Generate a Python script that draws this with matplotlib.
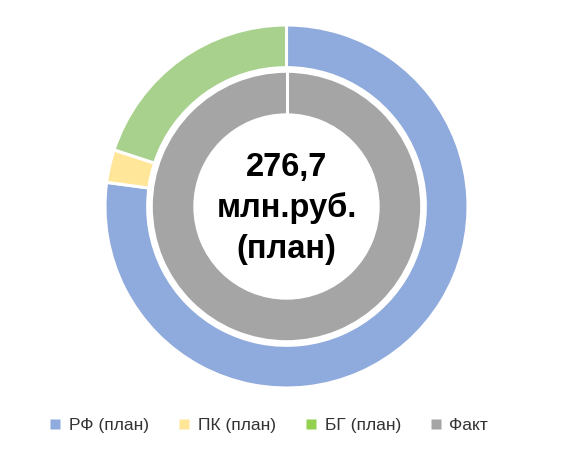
import matplotlib
matplotlib.use('Agg')
import matplotlib.pyplot as plt
from matplotlib.lines import Line2D

plt.rcParams['font.family'] = ['Liberation Sans', 'DejaVu Sans']

# данные (млн.руб.)
plan_labels = ['РФ (план)', 'ПК (план)', 'БГ (план)']
plan_values = [213.4, 8.1, 55.2]
plan_colors = ['#8faadc', '#ffe699', '#a9d18e']
fact_label = 'Факт'
fact_values = [276.7]
fact_color = '#a5a5a5'
legend_colors = ['#8faadc', '#ffe699', '#92d050', '#a5a5a5']
center_text = '276,7\nмлн.руб.\n(план)'

W, H = 568, 451
fig = plt.figure(figsize=(W / 100, H / 100), dpi=100)
cx, cy, R = 286.5, 206.5, 181.5
ax = fig.add_axes([(cx - R) / W, (H - cy - R) / H, 2 * R / W, 2 * R / H])

# внешнее кольцо - план
ax.pie(plan_values, colors=plan_colors, radius=1.0, startangle=90, counterclock=False,
       wedgeprops=dict(width=0.235, edgecolor='white', linewidth=2.2))
# внутреннее кольцо - факт
ax.pie(fact_values, colors=[fact_color], radius=0.745, startangle=90, counterclock=False,
       wedgeprops=dict(width=0.24, edgecolor='white', linewidth=2.2))
# разделитель у начала кольца "Факт"
ax.plot([0, 0], [0.5, 0.75], color='white', lw=2.2)

ax.text(0, -0.01, center_text, ha='center', va='center', fontsize=23.5, fontweight='bold',
        linespacing=1.38, color='black')

ax.set_xlim(-1, 1)
ax.set_ylim(-1, 1)
ax.set_aspect('equal')
ax.axis('off')

handles = [Line2D([], [], ls='none', marker='s', markersize=7, markerfacecolor=c,
                  markeredgecolor='none') for c in legend_colors]
fig.legend(handles, plan_labels + [fact_label], loc='center', bbox_to_anchor=(0.474, 1 - 425 / H),
           ncol=4, frameon=False, fontsize=12.5, handlelength=0.6,
           handletextpad=0.5, columnspacing=1.7, labelcolor='#333333')

plt.savefig('out.png', dpi=100)
